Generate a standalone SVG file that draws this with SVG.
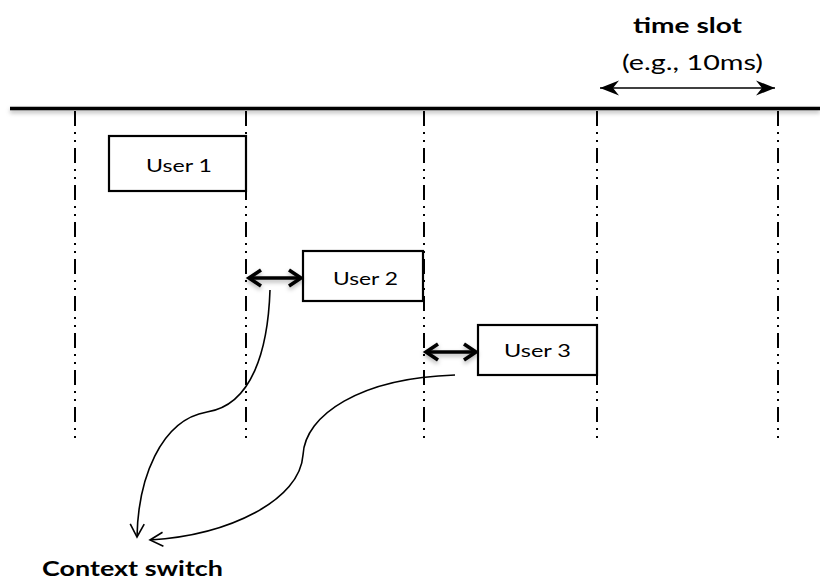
<svg xmlns="http://www.w3.org/2000/svg" width="820" height="581" viewBox="0 0 820 581">
  <style>
    text { font-family: Lato, "Open Sans", "Liberation Sans", sans-serif; fill: #000; }
    .lbl { font-size: 17px; text-anchor: start; }
    .bold { font-weight: bold; }
    .box { fill: #fff; stroke: #000; stroke-width: 2.2; }
    .vline { stroke: #000; stroke-width: 2; stroke-dasharray: 15 6 2 6 2 6; fill: none; }
    .dbl { stroke: #000; stroke-width: 3.6; fill: none; }
    .curve { stroke: #000; stroke-width: 1.6; fill: none; }
  </style>
  <defs>
    <filter id="shadow" filterUnits="userSpaceOnUse" x="0" y="0" width="820" height="581">
      <feDropShadow dx="0" dy="2.5" stdDeviation="2" flood-color="#000" flood-opacity="0.3"/>
    </filter>
    <marker id="thickHead" markerUnits="userSpaceOnUse" viewBox="-16 -12 18 24" markerWidth="18" markerHeight="24" refX="0" refY="0" orient="auto-start-reverse" overflow="visible">
      <path d="M -12 -8 L 0 0 L -12 8" fill="none" stroke="#000" stroke-width="3.6" stroke-linejoin="miter"/>
    </marker>
    <marker id="stealth" markerUnits="userSpaceOnUse" viewBox="-20 -10 22 20" markerWidth="22" markerHeight="20" refX="0" refY="0" orient="auto-start-reverse" overflow="visible">
      <path d="M 0 0 L -19 -7.5 L -13 0 L -19 7.5 Z" fill="#000"/>
    </marker>
    <marker id="openV" markerUnits="userSpaceOnUse" viewBox="-16 -10 18 20" markerWidth="18" markerHeight="20" refX="0" refY="0" orient="auto" overflow="visible">
      <path d="M -13 -7 L 0 0 L -13 7" fill="none" stroke="#000" stroke-width="1.6"/>
    </marker>
  </defs>
  <rect width="820" height="581" fill="#fff"/>

  <!-- timeline -->
  <g id="timeline">
    <line x1="10" y1="108.5" x2="820" y2="108.5" stroke="#000" stroke-width="3.5" filter="url(#shadow)"/>
    <line class="vline" x1="75" y1="111" x2="75" y2="440"/>
    <line class="vline" x1="246" y1="111" x2="246" y2="440"/>
    <line class="vline" x1="424" y1="111" x2="424" y2="440"/>
    <line class="vline" x1="597" y1="111" x2="597" y2="444"/>
    <line class="vline" x1="778" y1="111" x2="778" y2="444"/>
  </g>

  <g id="timeslot">
    <text class="bold" x="633" y="33" style="font-size:20px" textLength="109" lengthAdjust="spacingAndGlyphs">time slot</text>
    <text x="622" y="70" style="font-size:22px" textLength="141" lengthAdjust="spacingAndGlyphs">(e.g., 10ms)</text>
  </g>

  <g id="user1">
    <rect class="box" x="109" y="136" width="137" height="55"/>
    <text class="lbl" x="146" y="172" textLength="66" lengthAdjust="spacingAndGlyphs">User 1</text>
  </g>
  <g id="user2">
    <rect class="box" x="303" y="251" width="120" height="50"/>
    <text class="lbl" x="333" y="285" textLength="65" lengthAdjust="spacingAndGlyphs">User 2</text>
  </g>
  <g id="user3">
    <rect class="box" x="478" y="325" width="119" height="50"/>
    <text class="lbl" x="504" y="357" textLength="67" lengthAdjust="spacingAndGlyphs">User 3</text>
  </g>

  <g id="context-switch">
    <text class="bold" x="42" y="576" style="font-size:21px" textLength="181" lengthAdjust="spacingAndGlyphs">Context switch</text>
  </g>

  <g id="connectors">
    <line x1="600" y1="88" x2="775" y2="88" stroke="#000" stroke-width="1.5" marker-start="url(#stealth)" marker-end="url(#stealth)"/>
    <g filter="url(#shadow)">
      <line class="dbl" x1="249" y1="278" x2="301" y2="278" marker-start="url(#thickHead)" marker-end="url(#thickHead)"/>
      <line class="dbl" x1="426" y1="352" x2="476" y2="352" marker-start="url(#thickHead)" marker-end="url(#thickHead)"/>
    </g>
    <path class="curve" d="M 270 290 C 268 350 252 405 207 412 C 160 420 138 480 137 537" marker-end="url(#openV)"/>
    <path class="curve" d="M 455 375 C 360 378 305 415 303 455 C 300 500 230 535 150 540" marker-end="url(#openV)"/>
  </g>
</svg>
